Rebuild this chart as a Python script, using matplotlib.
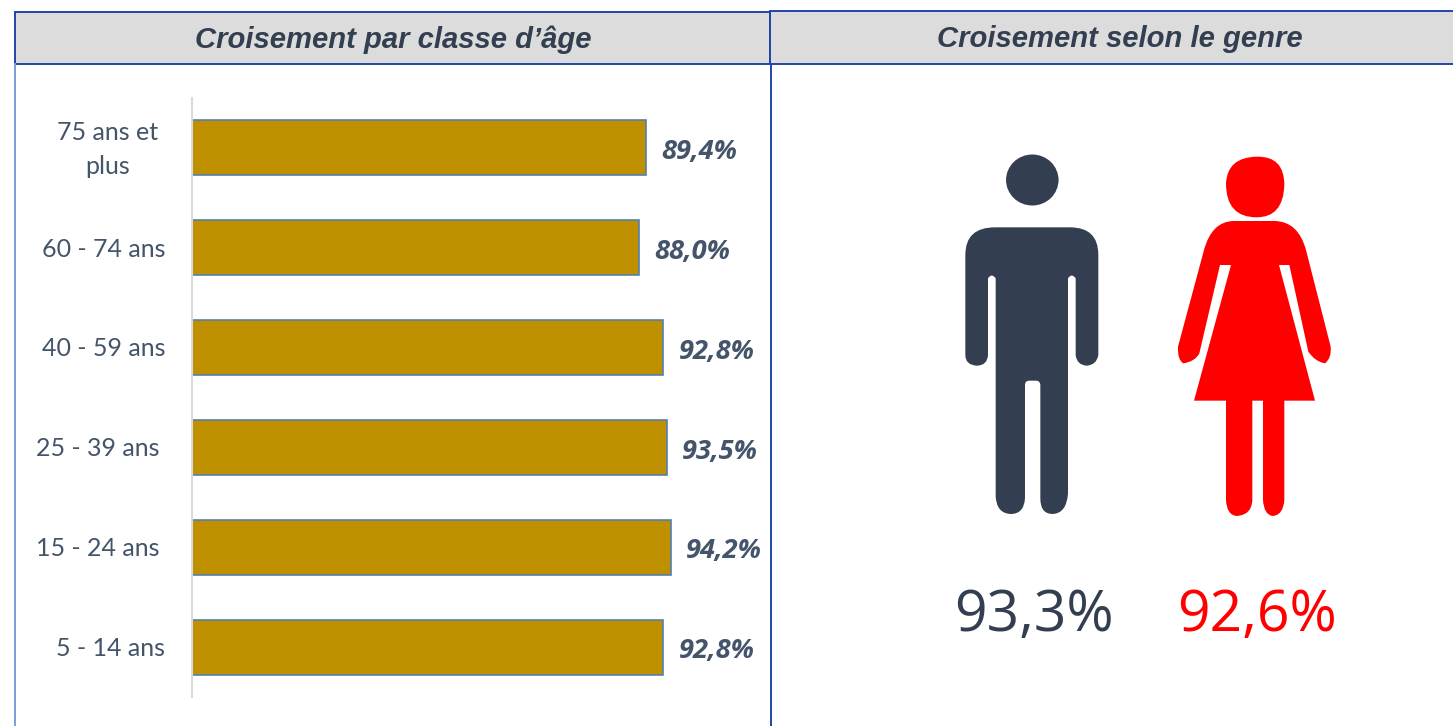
import matplotlib
matplotlib.use('Agg')
import matplotlib.pyplot as plt
from matplotlib.path import Path
from matplotlib.patches import PathPatch, Rectangle, Ellipse

W, H = 1453, 726

# donnees
categories = ['75 ans et\nplus', '60 - 74 ans', '40 - 59 ans', '25 - 39 ans', '15 - 24 ans', '5 - 14 ans']
values = [89.4, 88.0, 92.8, 93.5, 94.2, 92.8]
value_labels = ['89,4%', '88,0%', '92,8%', '93,5%', '94,2%', '92,8%']
label_gaps = [84, 88.5, 88.5, 94, 94, 81]  # decalage du libelle, en pixels
titles = ['Croisement par classe d\u2019\u00e2ge', 'Croisement selon le genre']
genre_labels = ['93,3%', '92,6%']

DARK = '#333F50'
SLATE = '#44546A'
BLUE = '#1F45A8'
GOLD = '#BF9000'
RED = '#FF0000'

fig = plt.figure(figsize=(W / 100, H / 100), dpi=100, facecolor='white')

# calque en pixels pour le cadre et les pictos
bg = fig.add_axes([0, 0, 1, 1])
bg.set_xlim(0, W)
bg.set_ylim(H, 0)
bg.axis('off')

bg.add_patch(Rectangle((15, 12), 755, 52, fc='#DCDCDC', ec=BLUE, lw=1.4))
bg.add_patch(Rectangle((770, 10.5), 690, 53.5, fc='#DCDCDC', ec=BLUE, lw=1.4))
bg.plot([15, 15], [64, H], color='#7F9BD8', lw=1.4)
bg.plot([771, 771], [64, H], color=BLUE, lw=1.4)

bg.text(393.5, 39.5, titles[0], ha='center', va='center', fontsize=21.1,
        family='Liberation Sans', weight='bold', style='italic', color=DARK)
bg.text(1119.5, 39, titles[1], ha='center', va='center', fontsize=21.1,
        family='Liberation Sans', weight='bold', style='italic', color=DARK)


def shape(start, segs):
    # segs : point seul = ligne, (controle, point) = courbe ; coords du zoom
    verts = [start]
    codes = [Path.MOVETO]
    for s in segs:
        if isinstance(s[0], tuple):
            verts += [s[0], s[1]]
            codes += [Path.CURVE3, Path.CURVE3]
        else:
            verts.append(s)
            codes.append(Path.LINETO)
    verts.append(start)
    codes.append(Path.CLOSEPOLY)
    verts = [(950 + x / 3, 140 + y / 3) for x, y in verts]
    return Path(verts, codes)


man_body = shape((135, 262), [
    (360, 262), ((445, 262), (445, 345)), (445, 645), ((440, 675), (410, 677)),
    ((380, 675), (377, 645)), (377, 415), ((365, 398), (354, 415)),
    (354, 1060), ((350, 1120), (308, 1122)), ((271, 1122), (271, 1075)),
    (271, 735), ((270, 722), (258, 722)), (238, 722), ((225, 722), (225, 735)),
    (225, 1075), ((222, 1122), (182, 1122)), ((140, 1120), (137, 1070)),
    (137, 415), ((125, 398), (114, 415)), (114, 645), ((112, 677), (80, 677)),
    ((46, 675), (46, 645)), (46, 345), ((46, 262), (135, 262)),
])
bg.add_patch(PathPatch(man_body, fc=DARK, ec='none'))
bg.add_patch(Ellipse((1032.3, 180), 52.5, 51, fc=DARK, ec='none'))

woman_head = shape((920, 50), [
    ((1003, 48), (1003, 135)), ((1000, 232), (920, 232)),
    ((828, 232), (828, 130)), ((832, 52), (920, 50)),
])
bg.add_patch(PathPatch(woman_head, fc=RED, ec='none'))

woman_body = shape((850, 243), [
    (975, 243), ((1045, 245), (1068, 330)), (1142, 620), ((1145, 655), (1125, 670)),
    ((1095, 665), (1075, 635)), (1018, 375), (987, 375), (1095, 782), (1003, 782),
    (1003, 1080), ((1000, 1125), (968, 1128)), ((942, 1125), (939, 1080)),
    (939, 782), (907, 782), (907, 1080), ((905, 1125), (860, 1128)),
    ((830, 1125), (828, 1080)), (828, 782), (732, 782), (843, 375), (810, 375),
    (748, 640), ((735, 665), (700, 670)), ((682, 660), (684, 620)),
    (762, 330), ((785, 245), (850, 243)),
])
bg.add_patch(PathPatch(woman_body, fc=RED, ec='none'))

bg.text(1034, 617, genre_labels[0], ha='center', va='center', fontsize=41,
        family='Open Sans', color=DARK)
bg.text(1257, 617, genre_labels[1], ha='center', va='center', fontsize=41,
        family='Open Sans', color=RED)

# barres
ax = fig.add_axes([192 / W, (H - 697) / H, 508 / W, 599 / H])
ax.patch.set_alpha(0)
y = list(range(len(categories)))
ax.barh(y, values, height=0.55, color=GOLD, edgecolor='#5580AE', linewidth=1.2)
ax.set_xlim(0, 100)
ax.set_ylim(5.5, -0.5)
ax.set_xticks([])
ax.set_yticks([])
for side in ['top', 'right', 'bottom']:
    ax.spines[side].set_visible(False)
ax.spines['left'].set_color('#D9D9D9')
ax.spines['left'].set_linewidth(1.5)

for i, cat in enumerate(categories):
    ax.annotate(cat, (0, i), xytext=(-label_gaps[i] * 0.72, -1), textcoords='offset points',
                ha='center', va='center', fontsize=18, family='Lato',
                color=SLATE, linespacing=1.55, annotation_clip=False)
    ax.annotate(value_labels[i], (values[i], i), xytext=(10.8, -3), textcoords='offset points',
                ha='left', va='center', fontsize=19.6, family='Open Sans',
                weight='bold', style='italic', color=SLATE, annotation_clip=False)

fig.savefig('out.png', dpi=100)
